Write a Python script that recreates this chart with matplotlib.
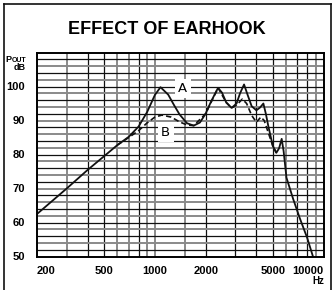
import matplotlib.pyplot as plt
from matplotlib.lines import Line2D

# --------------------------------------------------------------------
# Data
# --------------------------------------------------------------------

# curve A: response with earhook (solid)
freq_a = [200, 300, 400, 500, 600, 700, 800, 900, 1000, 1080, 1200, 1300,
          1400, 1550, 1700, 1850, 2000, 2150, 2370, 2500, 2650, 2850, 3050,
          3200, 3380, 3550, 3750, 4000, 4200, 4400, 4550, 4700, 5000, 5250,
          5450, 5650, 5800, 6030, 6600, 7230, 8000, 8660]
db_a = [62.5, 70, 75.5, 79.5, 82.8, 85.2, 88.2, 92.5, 97.5, 99.8, 97.6, 94.5,
        91.8, 89.2, 88.5, 89.4, 92, 95.5, 99.6, 98.2, 95.3, 93.7, 95,
        98, 100.6, 97.5, 94.2, 93, 93.8, 95, 92, 88.5, 82.6, 80.5,
        81.8, 84.6, 81, 73.2, 67, 61.3, 55.5, 50]

# curve B: response without earhook (dashed), only where it differs
freq_b = [600, 700, 800, 900, 1000, 1100, 1250, 1400, 1550, 1700, 2000, 2370,
          2650, 2850, 3050, 3300, 3500, 3750, 4000, 4250, 4450, 4700, 5000, 5250]
db_b = [82.8, 85.0, 87.0, 89.3, 91.0, 91.6, 91.0, 89.6, 88.7, 88.5, 92, 99.6,
        95.3, 93.7, 94.5, 96.3, 95.0, 91.5, 89.5, 91.0, 90.0, 86.5, 82.6, 80.5]

x_ticks = [200, 500, 1000, 2000, 5000, 10000]
y_ticks = [50, 60, 70, 80, 90, 100]

# --------------------------------------------------------------------
# Figure
# --------------------------------------------------------------------

W, H = 334, 290
plt.rcParams["font.family"] = ["Liberation Sans", "DejaVu Sans"]


def px(x, y):
    """pixel position (from top-left) -> figure coords"""
    return x / W, 1 - y / H


fig = plt.figure(figsize=(W / 100, H / 100), dpi=100)
fig.patch.set_facecolor("white")

ax = fig.add_axes([37 / W, 1 - 256.5 / H, (323.5 - 37) / W, (256.5 - 52.5) / H])
ax.set_xscale("log")
ax.set_xlim(200, 10000)
ax.set_ylim(50, 110)

# grid: black and grey lines mixed, like the printed graph paper
v_lines = [300, 400, 500, 600, 700, 800, 900, 1000, 1500, 2000, 3000,
           4000, 5000, 6000, 7000, 8000, 9000]
v_dark = {400, 500, 800, 2000, 3000, 4000, 5000, 7000, 8000}
for f in v_lines:
    if f in v_dark:
        ax.axvline(f, color="#111111", lw=0.9, zorder=1)
    else:
        ax.axvline(f, color="#8a8a8a", lw=1.4, zorder=1)

for v in range(52, 110, 2):
    if v % 4 == 0:
        ax.axhline(v, color="#111111", lw=0.9, zorder=1)
    else:
        ax.axhline(v, color="#8a8a8a", lw=1.4, zorder=1)

ax.plot(freq_a, db_a, color="#111111", lw=1.3, zorder=3, solid_joinstyle="round")
ax.plot(freq_b, db_b, color="#111111", lw=1.2, zorder=3, dashes=(3.2, 1.8))

# curve labels on white boxes
for lab, f, v in [("A", 1465, 99.4), ("B", 1160, 86.6)]:
    ax.text(f, v, lab, ha="center", va="center", fontsize=9.5, zorder=4,
            family=["DejaVu Sans"],
            bbox=dict(boxstyle="square,pad=0.25", fc="white", ec="none"))

for s in ax.spines.values():
    s.set_linewidth(1.4)
    s.set_zorder(5)

ax.tick_params(length=0)
ax.set_xticks(x_ticks)
ax.set_xticklabels([str(t) for t in x_ticks], fontsize=8, fontweight="bold")
ax.xaxis.set_minor_locator(plt.NullLocator())
ax.tick_params(axis="x", pad=6.5)
tl = ax.get_xticklabels()
tl[0].set_ha("left")
tl[-1].set_ha("right")

ax.set_yticks(y_ticks)
ax.set_yticklabels([str(t) for t in y_ticks], fontsize=8, fontweight="bold")
ax.tick_params(axis="y", pad=8.5)

# title and axis captions
fig.text(*px(167, 29), "EFFECT OF EARHOOK", ha="center", va="center",
         fontsize=13, fontweight="bold")
fig.text(*px(11.8, 62), "P", ha="right", va="baseline", fontsize=6.5,
         fontweight="bold")
fig.text(*px(12.2, 62), "OUT", ha="left", va="baseline", fontsize=5,
         fontweight="bold")
fig.text(*px(25.5, 67.5), "dB", ha="right", va="center", fontsize=6.5,
         fontweight="bold")
fig.text(*px(324, 281.5), "Hz", ha="right", va="center", fontsize=7,
         fontweight="bold")

# outer frame
for xs, ys in [((3.5, 3.5), (3.5, 290)), ((3.5, 330.5), (3.5, 3.5)),
               ((330.5, 330.5), (3.5, 290))]:
    fig.add_artist(Line2D([x / W for x in xs], [1 - y / H for y in ys],
                          color="#111111", lw=1.2))

fig.savefig("out.png", dpi=100)
